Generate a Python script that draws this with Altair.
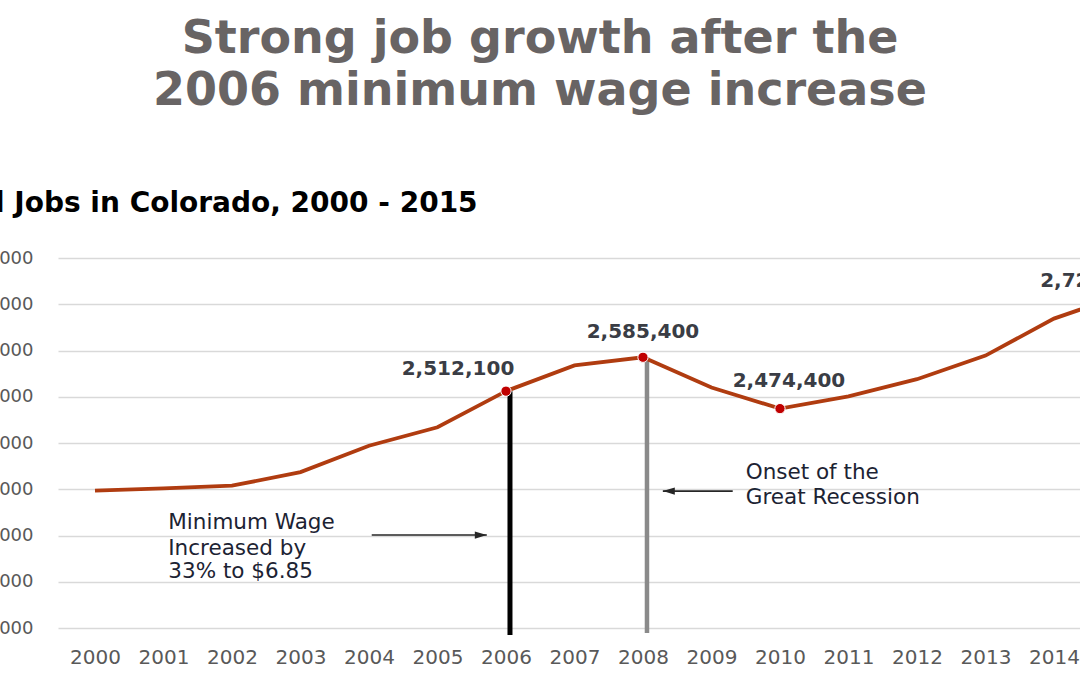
import altair as alt
import pandas as pd

# ---- data ----
years = list(range(2000, 2016))
jobs = [2297000, 2302000, 2307700, 2337000, 2394000, 2434000, 2512100, 2567700,
        2585400, 2520000, 2474400, 2501000, 2538000, 2589000, 2669000, 2720000]
marked_years = [2006, 2008, 2010, 2015]
axis_years = list(range(2000, 2015))
y_ticks = list(range(2000000, 2800001, 100000))

title_lines = ["Strong job growth after the", "2006 minimum wage increase"]
subtitle = "Total Jobs in Colorado, 2000 - 2015"
wage_note = ["Minimum Wage", "Increased by", "33% to $6.85"]
recession_note = ["Onset of the", "Great Recession"]

df = pd.DataFrame({"year": years, "value": jobs})
marked = df[df["year"].isin(marked_years)]

# ---- shared scales / axes ----
xs = alt.Scale(domain=[1999.46, 2014.38], nice=False, zero=False)
ys = alt.Scale(domain=[2000000, 2800000], nice=False, zero=False)
xaxis = alt.Axis(values=axis_years, format="d", grid=False, domain=False, ticks=False,
                 labelFont="DejaVu Sans", labelFontSize=20, labelColor="#595959",
                 labelPadding=19, labelFlush=False, labelOverlap=False, title=None)
yaxis = alt.Axis(values=y_ticks, format=",.0f", grid=True, gridColor="#d9d9d9",
                 gridWidth=1.5, domain=False, ticks=False, labelFont="DejaVu Sans",
                 labelFontSize=18, labelColor="#595959", labelPadding=25,
                 labelFlush=False, title=None)


def X(field="year"):
    return alt.X(f"{field}:Q", scale=xs, axis=xaxis, title=None)


def Y(field="value"):
    return alt.Y(f"{field}:Q", scale=ys, axis=yaxis, title=None)


layers = []

# event bars (2006 black, 2008 gray)
for yr, bottom, color, w in [(2006, 1984900, "#000000", 5), (2008, 1989200, "#8a8a8a", 4.5)]:
    bar = pd.DataFrame({"year": [yr], "value": [jobs[years.index(yr)]], "bottom": [bottom]})
    layers.append(alt.Chart(bar).mark_rule(color=color, strokeWidth=w, xOffset=4).encode(
        x=X(), y=Y(), y2="bottom:Q"))

# main line
layers.append(alt.Chart(df).mark_line(color="#B03C10", strokeWidth=3.8).encode(x=X(), y=Y()))

# highlighted points
layers.append(alt.Chart(marked).mark_point(filled=True, color="#C00000", size=105, opacity=1,
                                           stroke="white", strokeWidth=1).encode(x=X(), y=Y()))

# value labels
label_offsets = {2006: (-48, -22), 2008: (0, -25), 2010: (9, -28), 2015: (-26, -14)}
for yr in marked_years:
    row = df[df["year"] == yr]
    dx, dy = label_offsets[yr]
    layers.append(alt.Chart(row).mark_text(font="DejaVu Sans", fontSize=20, fontWeight="bold",
                                           color="#3a3d45", dx=dx, dy=dy, baseline="middle").encode(
        x=X(), y=Y(), text=alt.Text("value:Q", format=",")))

# annotation text
note_color = "#1c2333"
for line, yv in zip(wage_note, [2227000, 2170800, 2121000]):
    d = pd.DataFrame({"year": [2001.07], "value": [yv], "t": [line]})
    layers.append(alt.Chart(d).mark_text(font="DejaVu Sans", fontSize=21.5, color=note_color,
                                         align="left", baseline="middle").encode(
        x=X(), y=Y(), text="t:N"))
for line, yv in zip(recession_note, [2335100, 2281000]):
    d = pd.DataFrame({"year": [2009.50], "value": [yv], "t": [line]})
    layers.append(alt.Chart(d).mark_text(font="DejaVu Sans", fontSize=21.5, color=note_color,
                                         align="left", baseline="middle").encode(
        x=X(), y=Y(), text="t:N"))

# arrows
arrow_color = "#262626"
a1 = pd.DataFrame({"year": [2004.04], "year2": [2005.72], "value": [2201000]})
layers.append(alt.Chart(a1).mark_rule(color=arrow_color, strokeWidth=1.6).encode(
    x=X(), x2="year2:Q", y=Y()))
layers.append(alt.Chart(a1).mark_point(shape="M-1,-0.6L1,0L-1,0.6Z", size=144, filled=True,
                                       opacity=1, color=arrow_color, xOffset=-6).encode(
    x=X("year2"), y=Y()))
a2 = pd.DataFrame({"year": [2009.31], "year2": [2008.29], "value": [2296000]})
layers.append(alt.Chart(a2).mark_rule(color=arrow_color, strokeWidth=1.6).encode(
    x=X(), x2="year2:Q", y=Y()))
layers.append(alt.Chart(a2).mark_point(shape="M1,-0.6L-1,0L1,0.6Z", size=144, filled=True,
                                       opacity=1, color=arrow_color, xOffset=6).encode(
    x=X("year2"), y=Y()))

# headline and subtitle (positioned relative to the plot area)
for line, ypix in zip(title_lines, [-205, -153]):
    d = pd.DataFrame({"t": [line]})
    layers.append(alt.Chart(d).mark_text(font="DejaVu Sans", fontSize=46, fontWeight="bold",
                                         color="#686464", align="center",
                                         baseline="alphabetic").encode(
        text="t:N", x=alt.value(482), y=alt.value(ypix)))
d = pd.DataFrame({"t": [subtitle]})
layers.append(alt.Chart(d).mark_text(font="DejaVu Sans", fontSize=28, fontWeight="bold",
                                     color="#000000", align="left",
                                     baseline="alphabetic").encode(
    text="t:N", x=alt.value(-130), y=alt.value(-46)))

chart = alt.layer(*layers).properties(
    width=1022, height=370,
    padding={"left": 58, "top": 258, "right": 0, "bottom": 47},
    autosize=alt.AutoSizeParams(type="none"),
    background="white",
).configure_view(stroke=None)

chart.save("out.html", embed_options={"renderer": "svg", "actions": False})
